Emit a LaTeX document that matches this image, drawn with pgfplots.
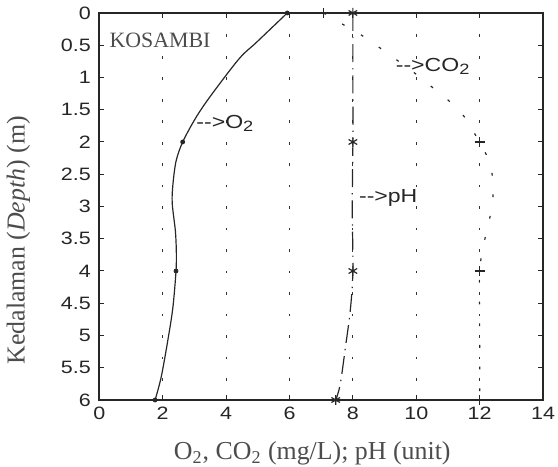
\documentclass[border=0pt]{standalone}
\usepackage{fontspec}
\setmainfont{Liberation Serif}
\setsansfont{Liberation Sans}
\usepackage{graphicx}
\usepackage{pgfplots}
\pgfplotsset{compat=1.18}
\begin{document}
\begin{tikzpicture}
\begin{axis}[
  scale only axis, width=223pt, height=194.5pt,
  xmin=0, xmax=14, ymin=0, ymax=6, y dir=reverse,
  xtick={0,2,4,6,8,10,12,14},
  xticklabels={0,2,4,6,8,10,12,14},
  ytick={0,0.5,1,1.5,2,2.5,3,3.5,4,4.5,5,5.5,6},
  yticklabels={0,0.5,1,1.5,2,2.5,3,3.5,4,4.5,5,5.5,6},
  tick align=inside, major tick length=2.5pt,
  xmajorgrids,
  grid style={black!80, line width=0.5pt, dash pattern=on 1.3pt off 9.5pt},
  axis line style={black!85, line width=0.9pt},
  tick style={black!85, line width=0.5pt},
  /pgf/number format/assume math mode=true,
  ticklabel style={font=\sffamily\fontsize{9}{10}\selectfont, text=black!85, xscale=1.2},
  xticklabel style={inner sep=1pt, yshift=-2.5pt},
  xlabel={O\textsubscript{2}, CO\textsubscript{2} (mg/L); pH (unit)},
  ylabel={Kedalaman (\textit{Depth}) (m)},
  label style={font=\fontsize{13}{15}\selectfont, text=black!70},
  xlabel shift=8.5pt,
  xlabel style={xshift=-4.5pt, inner sep=1pt},
  ylabel shift=8pt,
  ylabel style={xshift=-17pt},
  clip=false,
]
% O2 curve
\addplot[black!85, line width=0.6pt, smooth] coordinates {
 (5.93,0) (4.97,0.45) (4.41,0.71) (3.52,1.28) (3.05,1.62) (2.63,2.0) (2.42,2.3)
 (2.32,2.67) (2.30,2.95) (2.40,3.38) (2.43,3.7) (2.42,4) (2.32,4.57) (2.16,5.08)
 (1.95,5.65) (1.76,6)};
\addplot[only marks, mark=*, mark size=1pt, black!85] coordinates {
 (5.93,0) (2.63,2) (2.42,4) (1.76,6)};
% CO2 curve
\addplot[black!85, line width=0.6pt, smooth, dash pattern=on 1.4pt off 9.5pt] coordinates {
 (7.07,0) (7.66,0.17) (8.29,0.35) (8.85,0.54) (9.97,0.94) (10.5,1.15) (11.07,1.38) (11.5,1.6)
 (11.8,1.84) (12,2) (12.3,2.3) (12.42,2.6) (12.42,2.84) (12.33,3.15) (12.17,3.49) (12,4) (12,5) (12,6)};
\addplot[only marks, mark=+, mark size=2.5pt, black!85, line width=0.6pt] coordinates {
 (7.07,0) (12,2) (12,4) (12,6)};
% pH curve
\addplot[black!85, line width=0.6pt, smooth, dash pattern=on 9pt off 3pt on 0.7pt off 3pt] coordinates {
 (8,0) (8,1) (8,2) (7.98,3) (8,4) (7.92,4.6) (7.76,5.2) (7.6,5.76) (7.46,6)};
\addplot[only marks, mark=asterisk, mark size=2.5pt, black!85, line width=0.6pt] coordinates {
 (8,0) (8,2) (8,4) (7.46,6)};
% annotations
\node[anchor=west, inner sep=0pt, font=\fontsize{11}{12}\selectfont, text=black!70] at (axis cs:0.31,0.43) {KOSAMBI};
\node[anchor=west, inner sep=0pt, xscale=1.22, font=\sffamily\fontsize{9.5}{11}\selectfont, text=black!85] at (axis cs:3.05,1.71) {-{}->O\raisebox{-0.35ex}{\fontsize{7.5}{8}\selectfont 2}};
\node[anchor=west, inner sep=0pt, xscale=1.22, font=\sffamily\fontsize{9.5}{11}\selectfont, text=black!85] at (axis cs:9.34,0.83) {-{}->CO\raisebox{-0.35ex}{\fontsize{7.5}{8}\selectfont 2}};
\node[anchor=west, inner sep=0pt, xscale=1.22, font=\sffamily\fontsize{9.5}{11}\selectfont, text=black!85] at (axis cs:8.18,2.87) {-{}->pH};
\end{axis}
\path (current axis.north east) ++(7.5pt,0pt) coordinate (rm);
\path (rm) circle (0pt);
\end{tikzpicture}
\end{document}
